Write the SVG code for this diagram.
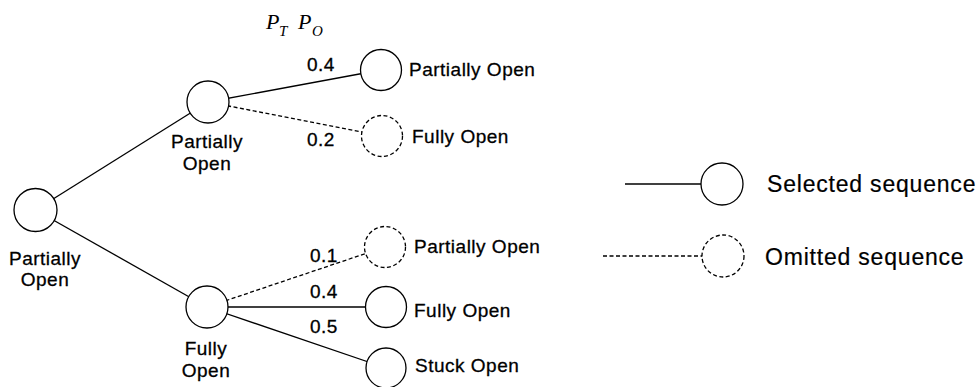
<svg xmlns="http://www.w3.org/2000/svg" width="979" height="387" viewBox="0 0 979 387">
<style>
.n{fill:#fff;stroke:#000;stroke-width:1.3}
.d{stroke-dasharray:4 2.5}
.c{stroke:#000;stroke-width:1.3;fill:none}
.t{font-family:"Liberation Sans",Arial,sans-serif;font-size:19px;letter-spacing:0.5px;fill:#000;stroke:#000;stroke-width:0.3}
.m{text-anchor:middle}
.lg{font-family:"Liberation Sans",Arial,sans-serif;font-size:23px;letter-spacing:0.8px;fill:#000;stroke:#000;stroke-width:0.2}
.p{font-family:"Liberation Serif","Times New Roman",serif;font-style:italic;fill:#000}
</style>
<rect width="979" height="387" fill="#fff"/>
<g id="connectors">
<line class="c" x1="35.5" y1="210" x2="208" y2="102"/>
<line class="c" x1="35.5" y1="210" x2="207" y2="307"/>
<line class="c" x1="208" y1="102" x2="381" y2="70"/>
<line class="c d" x1="208" y1="102" x2="382" y2="136"/>
<line class="c d" x1="207" y1="307" x2="385" y2="247"/>
<line class="c" x1="207" y1="307" x2="386" y2="307"/>
<line class="c" x1="207" y1="307" x2="386" y2="368"/>
<line class="c" x1="625" y1="184" x2="701" y2="184"/>
<line class="c d" x1="603" y1="256" x2="702" y2="256"/>
</g>
<g id="header">
<text class="p" x="266" y="29" font-size="22">P</text>
<text class="p" x="279" y="36" font-size="15">T</text>
<text class="p" x="298" y="29" font-size="22">P</text>
<text class="p" x="312" y="36" font-size="15">O</text>
</g>
<g id="root">
<circle class="n" cx="35.5" cy="210" r="21.5"/>
<text class="t m" x="45" y="265">Partially</text>
<text class="t m" x="45" y="286">Open</text>
</g>
<g id="n-po">
<circle class="n" cx="208" cy="102" r="21"/>
<text class="t m" x="207" y="148">Partially</text>
<text class="t m" x="207" y="170">Open</text>
</g>
<g id="n-fo">
<circle class="n" cx="207" cy="307" r="21"/>
<text class="t m" x="206" y="355">Fully</text>
<text class="t m" x="206" y="377">Open</text>
</g>
<g id="po-po">
<circle class="n" cx="381" cy="70" r="20.5"/>
<text class="t" x="409" y="76">Partially Open</text>
<text class="t" x="307" y="71">0.4</text>
</g>
<g id="po-fo">
<circle class="n d" cx="382" cy="136" r="20.5"/>
<text class="t" x="412" y="143">Fully Open</text>
<text class="t" x="307" y="146">0.2</text>
</g>
<g id="fo-po">
<circle class="n d" cx="385" cy="247" r="20.5"/>
<text class="t" x="414" y="253">Partially Open</text>
<text class="t" x="310" y="262">0.1</text>
</g>
<g id="fo-fo">
<circle class="n" cx="386" cy="307" r="20.5"/>
<text class="t" x="414" y="317">Fully Open</text>
<text class="t" x="310" y="298">0.4</text>
</g>
<g id="fo-so">
<circle class="n" cx="386" cy="368" r="20"/>
<text class="t" x="415" y="372">Stuck Open</text>
<text class="t" x="310" y="333">0.5</text>
</g>
<g id="legend-selected">
<circle class="n" cx="722" cy="184" r="21"/>
<text class="lg" x="767" y="192">Selected sequence</text>
</g>
<g id="legend-omitted">
<circle class="n d" cx="723" cy="256" r="21"/>
<text class="lg" x="765" y="265">Omitted sequence</text>
</g>
</svg>
